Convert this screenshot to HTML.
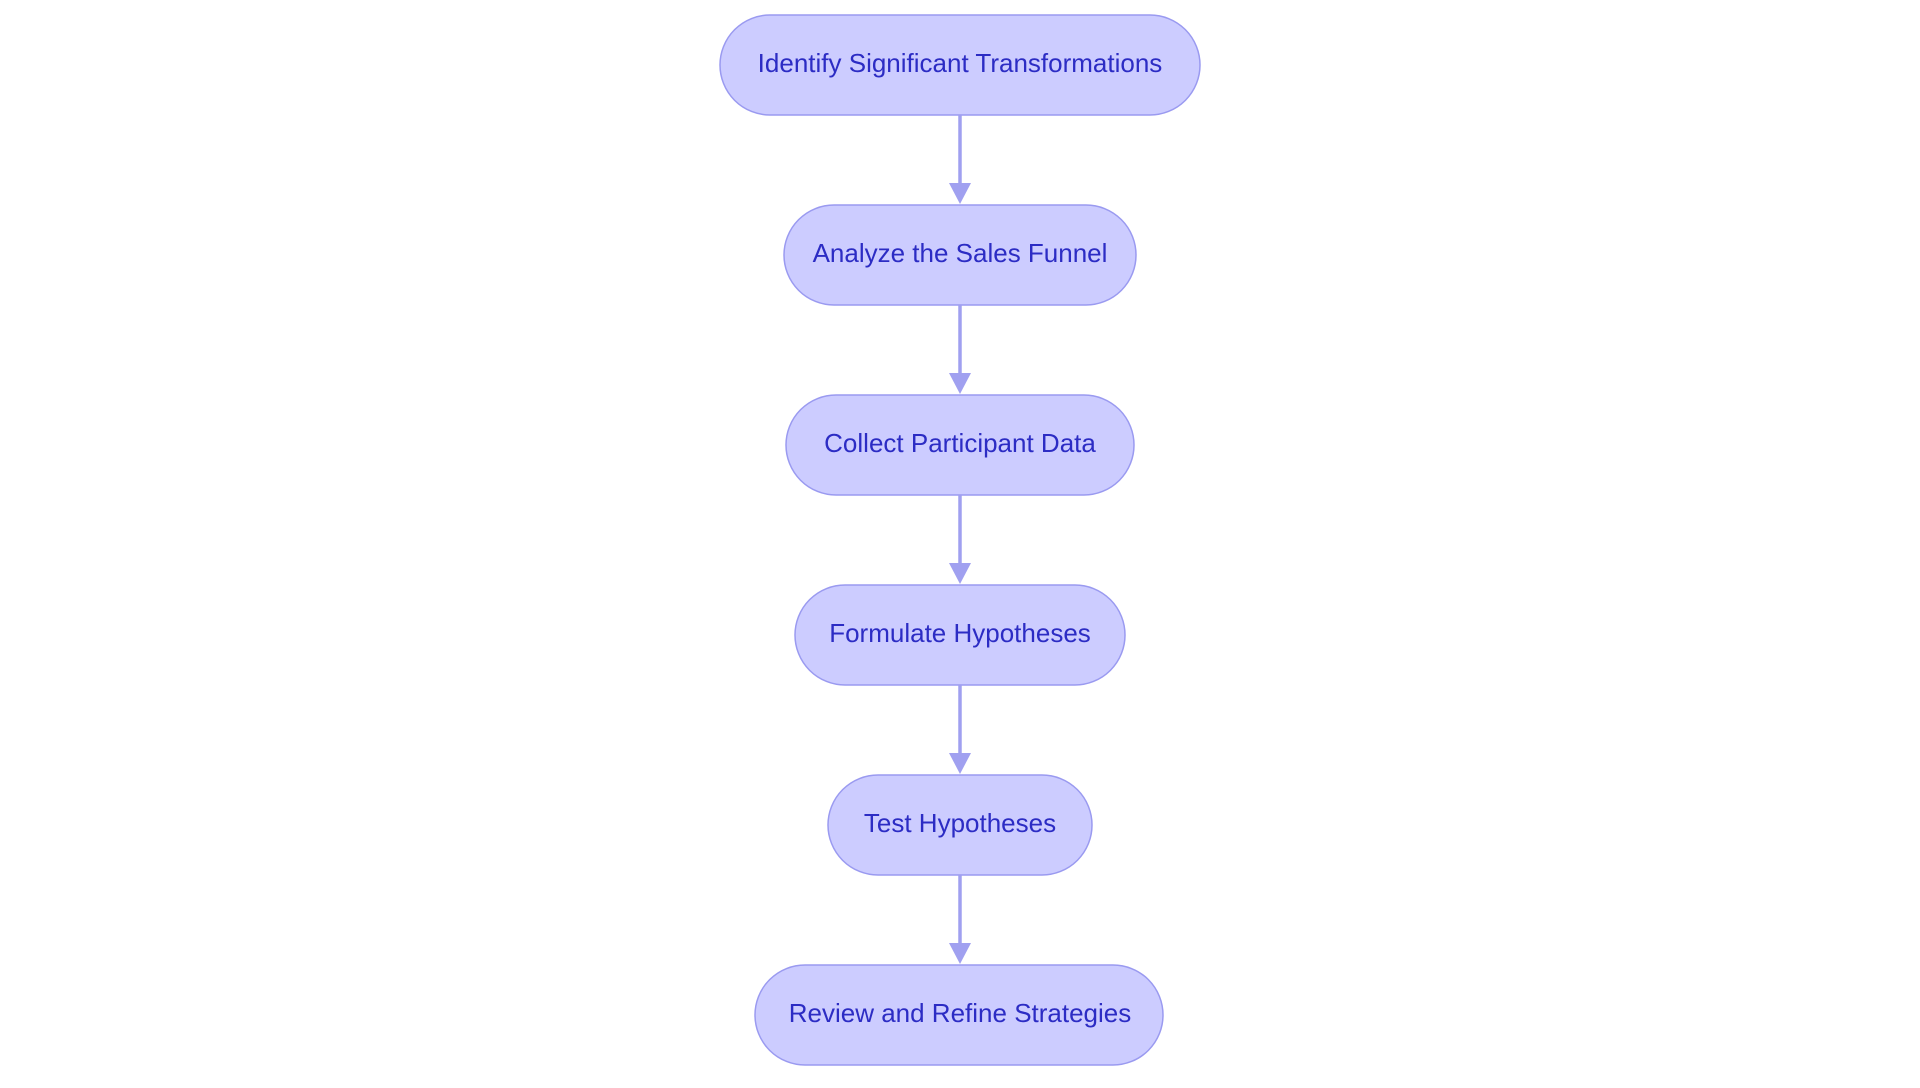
<!DOCTYPE html>
<html><head><meta charset="utf-8"><style>
html,body{margin:0;padding:0;background:#fff;}
body{width:1920px;height:1083px;overflow:hidden;}
text{font-family:"Liberation Sans",sans-serif;font-size:26px;fill:#2c2cc4;}
</style></head><body>
<svg width="1920" height="1083" viewBox="0 0 1920 1083" xmlns="http://www.w3.org/2000/svg">
<g fill="#ccccff" stroke="#9a9af0" stroke-width="1.5">
<rect x="720" y="15" width="480" height="100" rx="50"/>
<rect x="784" y="205" width="352" height="100" rx="50"/>
<rect x="786" y="395" width="348" height="100" rx="50"/>
<rect x="795" y="585" width="330" height="100" rx="50"/>
<rect x="828" y="775" width="264" height="100" rx="50"/>
<rect x="755" y="965" width="408" height="100" rx="50"/>
</g>
<g stroke="#a0a0f0" stroke-width="3.5">
<line x1="960" y1="115" x2="960" y2="185"/>
<line x1="960" y1="305" x2="960" y2="375"/>
<line x1="960" y1="495" x2="960" y2="565"/>
<line x1="960" y1="685" x2="960" y2="755"/>
<line x1="960" y1="875" x2="960" y2="945"/>
</g>
<g fill="#a0a0f0">
<polygon points="949,183 971,183 960,204"/>
<polygon points="949,373 971,373 960,394"/>
<polygon points="949,563 971,563 960,584"/>
<polygon points="949,753 971,753 960,774"/>
<polygon points="949,943 971,943 960,964"/>
</g>
<g text-anchor="middle">
<text x="960" y="72">Identify Significant Transformations</text>
<text x="960" y="262">Analyze the Sales Funnel</text>
<text x="960" y="452">Collect Participant Data</text>
<text x="960" y="642">Formulate Hypotheses</text>
<text x="960" y="832">Test Hypotheses</text>
<text x="960" y="1022">Review and Refine Strategies</text>
</g>
</svg>
</body></html>
